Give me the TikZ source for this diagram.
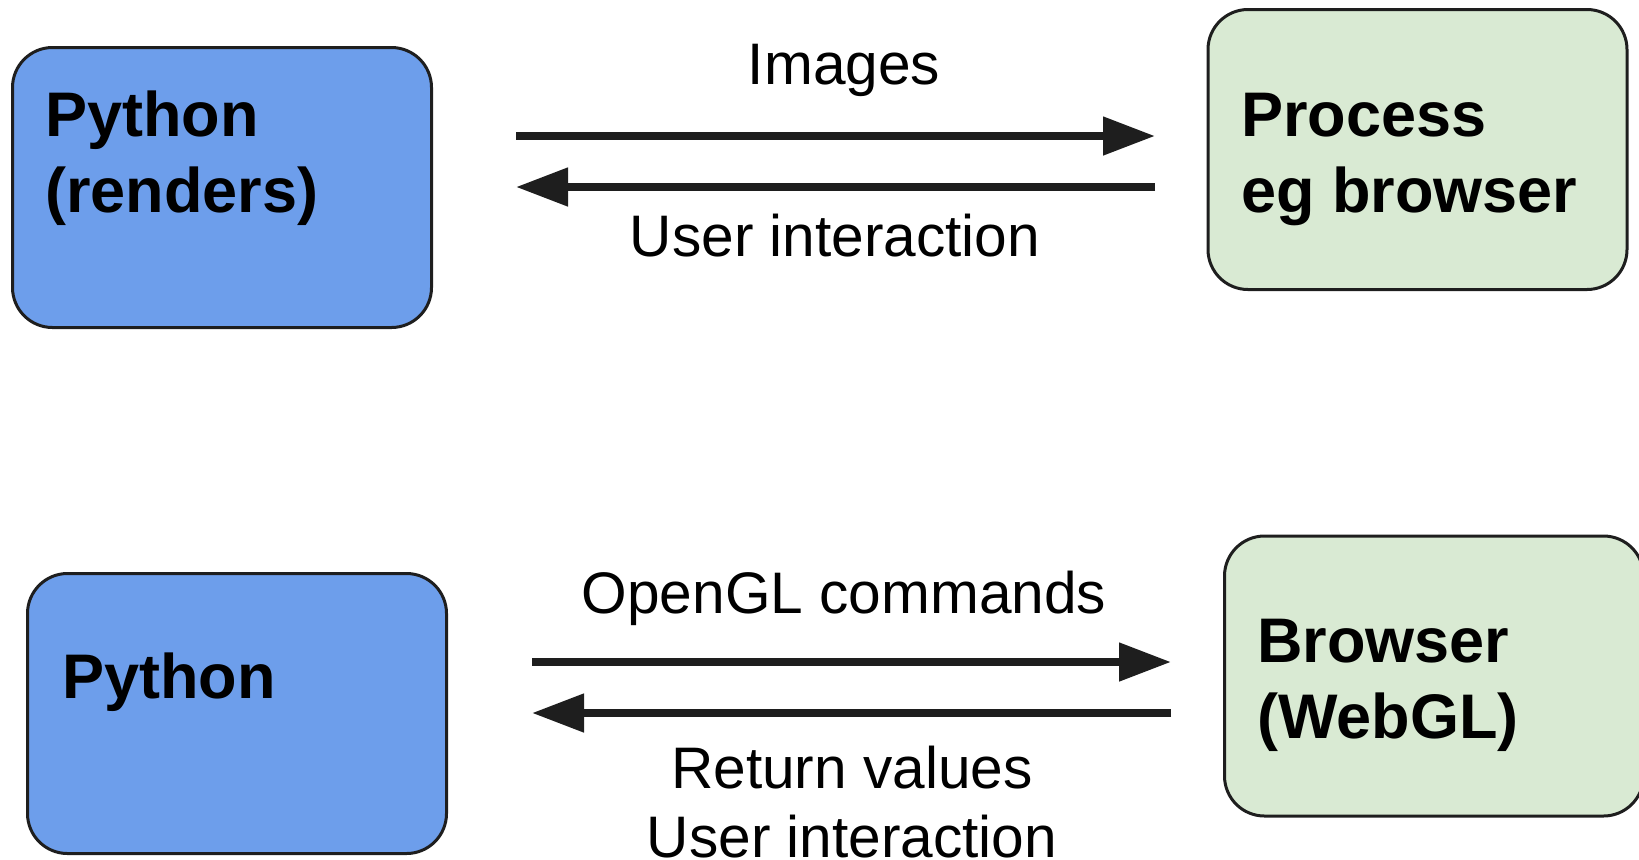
\documentclass[tikz,border=0pt]{standalone}
\usepackage{fontspec}
\setmainfont{Liberation Sans}
\usepackage{tikz}
\usetikzlibrary{arrows.meta}
\usepackage{xcolor}
\definecolor{pyblue}{HTML}{6D9EEB}
\definecolor{webgreen}{HTML}{D9EAD3}
\definecolor{edge}{HTML}{1E1E1E}

\begin{document}
\begin{tikzpicture}[x=0.5pt,y=-0.5pt,
          box/.style={draw=edge,line width=1.5pt,rounded corners=20pt,minimum width=209.5pt,minimum height=140pt,inner sep=0pt},
          title/.style={font=\fontsize{31.5}{38}\selectfont\bfseries,align=left,anchor=base west,inner sep=0pt},
          msg/.style={font=\fontsize{29.3}{34.5}\selectfont,align=center,anchor=base,inner sep=0pt},
          flow/.style={line width=4pt,draw=edge,-{Triangle[length=26pt,width=18.5pt]}},
        ]
        \useasboundingbox (0,0) rectangle (1639,859);
        \node[box,fill=pyblue] (pyr) at (222,187.5) {};
        \node[box,fill=webgreen] (proc) at (1417.5,149.5) {};
        \node[box,fill=pyblue] (py) at (237,713.5) {};
        \node[box,fill=webgreen] (gl) at (1434,676) {};
        \node[title] (pyrt) at (45,212) {Python\\(renders)};
        \node[title] (proct) at (1241,212) {Process\\eg browser};
        \node[title] (pyt) at (62,698) {Python};
        \node[title] (glt) at (1257,738) {Browser\\(WebGL)};
        \node[msg] (img) at (844,84) {Images};
        \node[msg] (ui) at (835,256) {User interaction};
        \node[msg] (cmd) at (844,613) {OpenGL commands};
        \node[msg] (ret) at (852,857) {Return values\\User interaction};
        \coordinate (imgL) at (516,136);
        \coordinate (imgR) at (1155,136);
        \coordinate (uiL) at (516,187);
        \coordinate (uiR) at (1155,187);
        \coordinate (cmdL) at (532,662);
        \coordinate (cmdR) at (1171,662);
        \coordinate (retL) at (532,713);
        \coordinate (retR) at (1171,713);
        \draw[flow] (imgL) -- (imgR);
        \draw[flow] (uiR) -- (uiL);
        \draw[flow] (cmdL) -- (cmdR);
        \draw[flow] (retR) -- (retL);
      \end{tikzpicture}
\end{document}
